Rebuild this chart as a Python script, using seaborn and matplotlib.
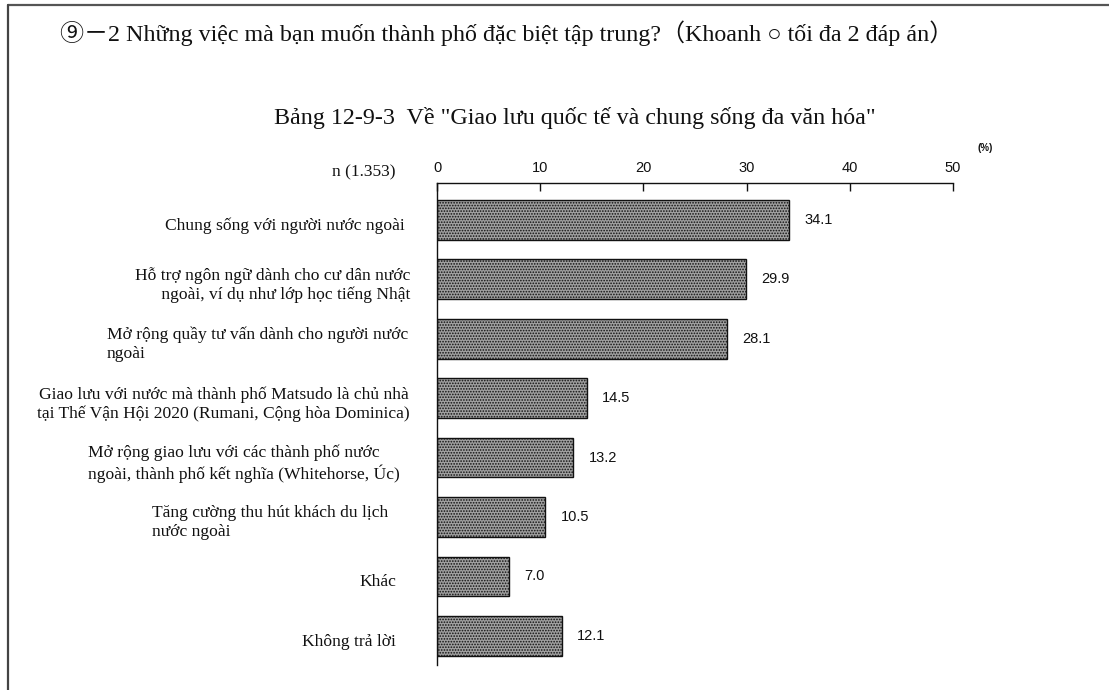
import matplotlib
matplotlib.use("Agg")
import matplotlib.pyplot as plt
import matplotlib.transforms as mtransforms
from matplotlib.lines import Line2D
import seaborn as sns
import pandas as pd

# ---- data -------------------------------------------------------------
categories = [
    "Chung sống với người nước ngoài",
    "Hỗ trợ ngôn ngữ dành cho cư dân nước\n ngoài, ví dụ như lớp học tiếng Nhật",
    "Mở rộng quầy tư vấn dành cho người nước\nngoài",
    "Giao lưu với nước mà thành phố Matsudo là chủ nhà\ntại Thế Vận Hội 2020 (Rumani, Cộng hòa Dominica)",
    "Mở rộng giao lưu với các thành phố nước\nngoài, thành phố kết nghĩa (Whitehorse, Úc)",
    "Tăng cường thu hút khách du lịch\nnước ngoài",
    "Khác",
    "Không trả lời",
]
values = [34.1, 29.9, 28.1, 14.5, 13.2, 10.5, 7.0, 12.1]
x_ticks = [0, 10, 20, 30, 40, 50]

title_text = "⑨－2 Những việc mà bạn muốn thành phố đặc biệt tập trung?（Khoanh ○ tối đa 2 đáp án）"
subtitle_text = 'Bảng 12-9-3  Về "Giao lưu quốc tế và chung sống đa văn hóa"'
sample_text = "n (1.353)"
unit_text = "(%)"

# ---- layout / style -----------------------------------------------------
W, H = 1109, 690
# right edge (px) and multi-line alignment of each category label
label_right = [405, 410, 408, 410, 400, 388, 396, 396]
label_align = ["right", "right", "left", "center", "left", "left", "right", "right"]

sns.set_theme(style="white")
plt.rcParams["hatch.color"] = "#2a2a2a"
plt.rcParams["hatch.linewidth"] = 0.8
serif = ["Liberation Serif", "DejaVu Serif", "Noto Sans CJK JP"]
sans = ["Liberation Sans", "DejaVu Sans"]

fig = plt.figure(figsize=(W / 100, H / 100), dpi=100)
fig.patch.set_facecolor("white")
ax = fig.add_axes([437 / W, 1 - 665 / H, (953 - 437) / W, (665 - 183) / H])

df = pd.DataFrame({"item": categories, "pct": values})
sns.barplot(data=df, x="pct", y="item", orient="h", ax=ax,
            color="#8c8c8c", width=0.67, saturation=1.0)

for patch in ax.patches:
    patch.set_hatch("......")
    patch.set_edgecolor("#111111")
    patch.set_linewidth(1.0)
    patch.set_facecolor("#a0a0a0")

# value labels at the bar ends
for i, v in enumerate(values):
    ax.annotate(f"{v:.1f}", xy=(v, i), xytext=(11, 0), textcoords="offset points",
                ha="left", va="center", fontsize=10.5, family=sans, color="#111111")

ax.set_xlim(0, 50)
ax.set_ylim(7.49, -0.62)
ax.set_xticks(x_ticks)
ax.set_xticklabels([str(t) for t in x_ticks], family=sans, fontsize=10.5)
ax.xaxis.tick_top()
ax.tick_params(axis="x", direction="in", length=6, width=1.0, color="#111111",
               pad=6, top=True, bottom=False, labelcolor="#111111")
ax.set_yticks([])
ax.set_xlabel("")
ax.set_ylabel("")
for side in ("right", "bottom"):
    ax.spines[side].set_visible(False)
for side in ("top", "left"):
    ax.spines[side].set_color("#111111")
    ax.spines[side].set_linewidth(1.0)

# category labels to the left of the axis
trans = mtransforms.blended_transform_factory(fig.transFigure, ax.transData)
for i, (lab, xr, al) in enumerate(zip(categories, label_right, label_align)):
    ax.text(xr / W, i + 0.1, lab, transform=trans, ha="right", va="center",
            multialignment=al, fontsize=12.6, family=serif, color="#111111",
            linespacing=1.25)

# titles and annotations
fig.text(60 / W, 1 - 33 / H, title_text, ha="left", va="center",
         fontsize=17.3, family=serif, color="#111111")
fig.text(575 / W, 1 - 118 / H, subtitle_text, ha="center", va="center",
         fontsize=17.3, family=serif, color="#111111")
fig.text(395 / W, 1 - 172 / H, sample_text, ha="right", va="center",
         fontsize=12.5, family=serif, color="#111111")
fig.text(985 / W, 1 - 148 / H, unit_text, ha="center", va="center",
         fontsize=7, family=sans, weight="bold", color="#111111")

# page frame (top and left edges)
fig.add_artist(Line2D([8 / W, 1.0], [1 - 5 / H, 1 - 5 / H], transform=fig.transFigure,
                      color="#555555", linewidth=1.6))
fig.add_artist(Line2D([8 / W, 8 / W], [0.0, 1 - 5 / H], transform=fig.transFigure,
                      color="#444444", linewidth=1.6))

fig.savefig("out.png", dpi=100, facecolor="white")
